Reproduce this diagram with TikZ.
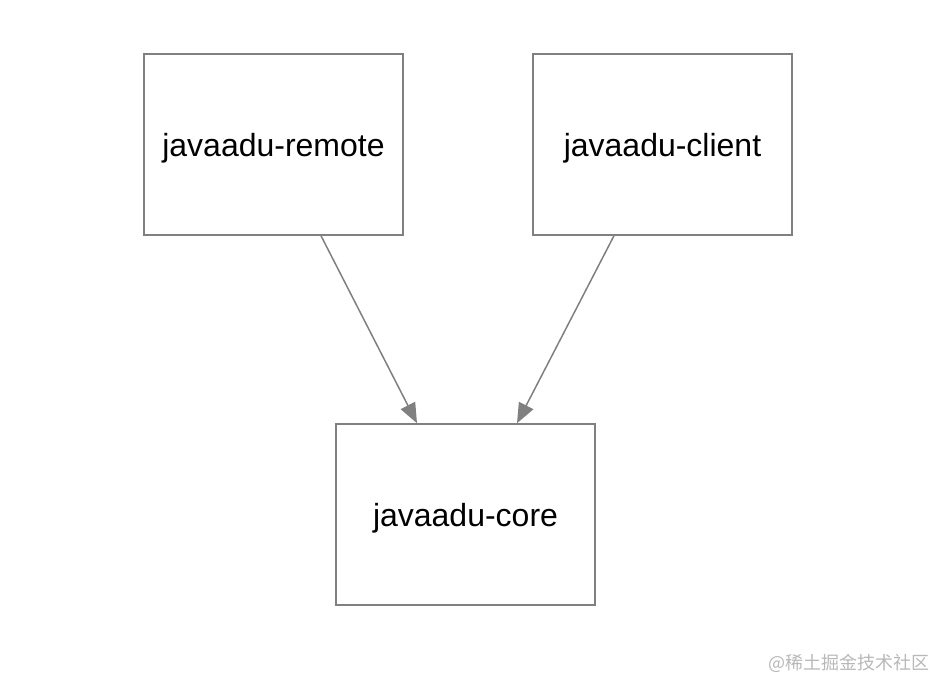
\documentclass[tikz,border=0pt]{standalone}
\usepackage{fontspec}
\setmainfont{Liberation Sans}
\newfontfamily\cjkfont{Noto Sans CJK SC}
\usepackage{xcolor}
\usetikzlibrary{arrows.meta,positioning}
\definecolor{linegray}{HTML}{808080}
\definecolor{markgray}{HTML}{B8B8B8}

\begin{document}
\begin{tikzpicture}[
		x=0.5pt, y=-0.5pt,
		module/.style={
			rectangle, draw=linegray, line width=0.75pt,
			align=center, minimum width=129.5pt, minimum height=90.5pt,
			text depth=0pt, font=\fontsize{16}{19}\selectfont
		},
		dep/.style={-{Triangle[length=10pt,width=8pt]}, draw=linegray, fill=linegray, line width=0.75pt}
		]
		\useasboundingbox (0,0) rectangle (950,694);
		\node[module] (remote) at (273.5,144.5) {javaadu-remote};
		\node[module] (client) at (662.5,144.5) {javaadu-client};
		\node[module] (core) at (465.5,514.5) {javaadu-core};
		\draw[dep] ([xshift=23.75pt]remote.south) -- ([xshift=-24.25pt]core.north);
		\draw[dep] ([xshift=-24.25pt]client.south) -- ([xshift=25.75pt]core.north);
		\node[anchor=east, text=markgray, inner sep=0pt, font=\cjkfont\fontsize{9}{11}\selectfont] (mark) at (930,663) {@稀土掘金技术社区};
	\end{tikzpicture}
\end{document}
